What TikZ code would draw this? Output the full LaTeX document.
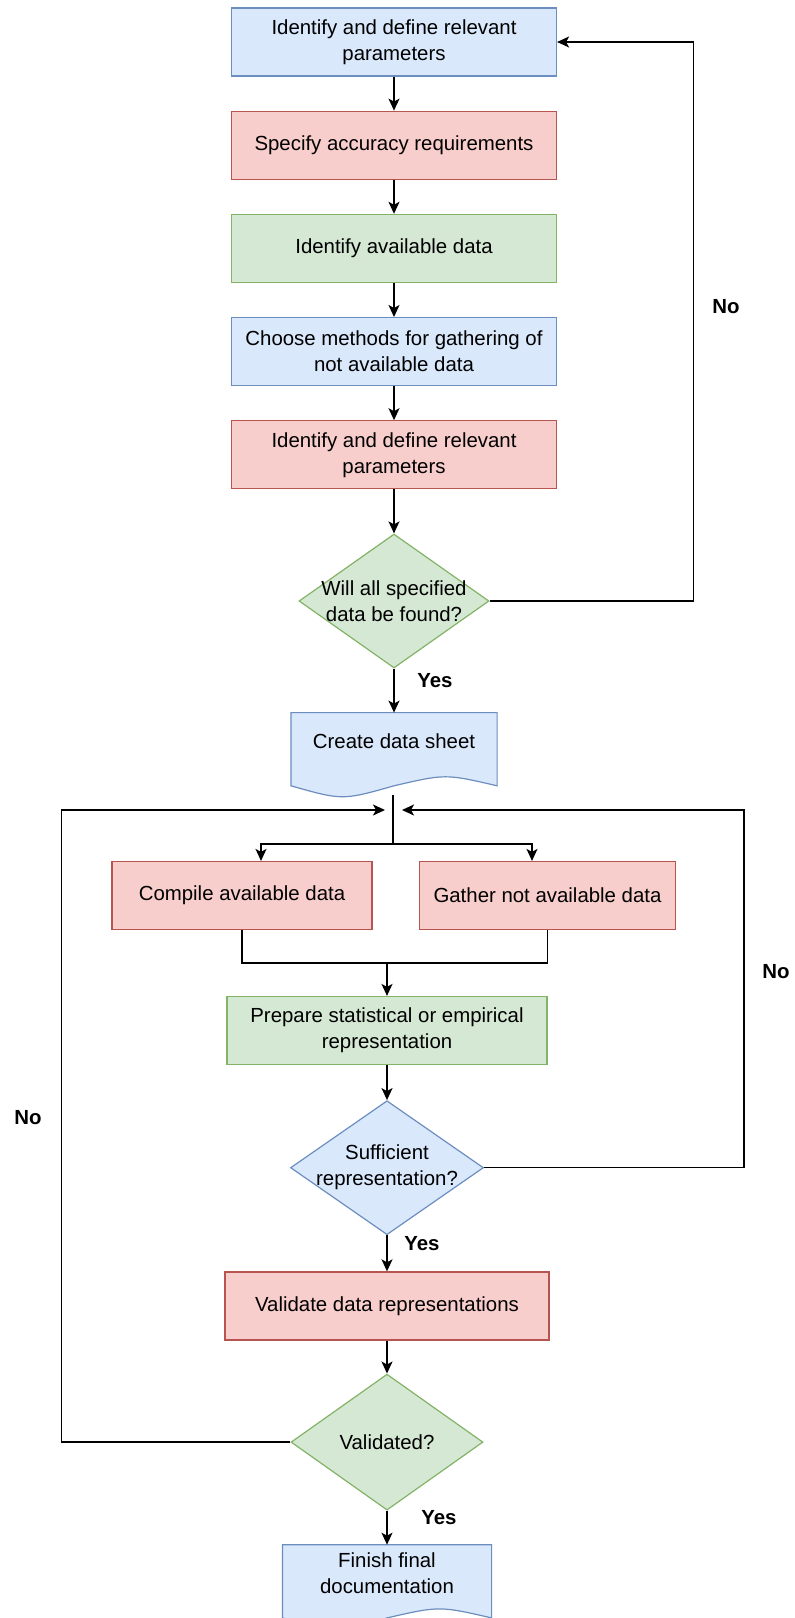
\documentclass[tikz,border=0pt]{standalone}
\usepackage{fontspec}
\setmainfont{Liberation Sans}
\usetikzlibrary{arrows.meta,positioning,calc,shapes.geometric,backgrounds}
\definecolor{bluefill}{HTML}{DAE8FC}
\definecolor{blueline}{HTML}{6C8EBF}
\definecolor{redfill}{HTML}{F8CECC}
\definecolor{redline}{HTML}{B85450}
\definecolor{greenfill}{HTML}{D5E8D4}
\definecolor{greenline}{HTML}{82B366}
\tikzset{
  base/.style={align=center,font=\fontsize{10.2}{13}\selectfont,line width=0.6pt,inner sep=2pt},
  taskblue/.style={base,draw=blueline,fill=bluefill,minimum width=162.5pt,minimum height=34pt},
  taskred/.style={base,draw=redline,fill=redfill,minimum width=162.5pt,minimum height=34pt},
  taskgreen/.style={base,draw=greengline,fill=greenfill,minimum width=162.5pt,minimum height=34pt},
  taskgreen/.style={base,draw=greenline,fill=greenfill,minimum width=162.5pt,minimum height=34pt},
  decision/.style={diamond,line width=0.6pt,inner sep=0pt,minimum width=95pt,minimum height=67pt},
  docnode/.style={base,minimum width=102.5pt,minimum height=28pt},
  docback/.style={draw=blueline,fill=bluefill,line width=0.6pt},
  arrow/.style={-{Stealth[length=6pt,width=5.5pt,inset=1.5pt]},draw=black,line width=0.75pt},
  line/.style={draw=black,line width=0.75pt},
  answer/.style={font=\fontsize{10.2}{13}\selectfont\bfseries,inner sep=1pt}
}
% wavy lower edge of a document node
\newcommand{\docwave}[1]{%
  \path[docback] let \p1=(#1.south west), \p2=(#1.south east), \n1={\x2-\x1} in
    (#1.north west) -- (#1.north east) -- (\x2,\y2-8pt)
    .. controls ({\x1+0.75*\n1},\y1-2pt) .. ({\x1+0.5*\n1},\y1-8pt)
    .. controls ({\x1+0.25*\n1},\y1-15.3pt) .. (\x1,\y1-8pt) -- cycle;}

\begin{document}
\begin{tikzpicture}[x=1pt,y=1pt]
  \useasboundingbox (0,0) rectangle (397.5,-809);
  % upper column
  \node[taskblue] (b1) at (197,-21) {Identify and define relevant\\parameters};
  \node[taskred,below=17pt of b1] (b2) {Specify accuracy requirements};
  \node[taskgreen,below=17pt of b2] (b3) {Identify available data};
  \node[taskblue,below=17pt of b3] (b4) {Choose methods for gathering of\\not available data};
  \node[taskred,below=17pt of b4] (b5) {Identify and define relevant\\parameters};
  \node[decision,draw=greenline,fill=greenfill,below=22pt of b5,
    label={[base]center:Will all specified\\data be found?}] (d1) {};
  \node[docnode,below=22pt of d1] (ds) {Create data sheet};
  \draw[arrow] (b1) -- (b2);
  \draw[arrow] (b2) -- (b3);
  \draw[arrow] (b3) -- (b4);
  \draw[arrow] (b4) -- (b5);
  \draw[arrow] (b5) -- (d1);
  \draw[arrow] (d1) -- (ds);
  \draw[arrow] (d1.east) -- ++(102,0) |- (b1.east);
  \node[answer] (no1) at (363,-153.5) {No};
  \node[answer] (yes1) at (217.5,-340.5) {Yes};

  % split into two branches
  \coordinate (jtop) at (196.5,-397.5);
  \coordinate (jbot) at (196.5,-422);
  \coordinate (jl) at (192.5,-405);
  \coordinate (jr) at (201,-405);
  \node[taskred,minimum width=130pt] (cad) at (121,-447.75) {Compile available data};
  \node[taskred,minimum width=128pt] (gnd) at (273.75,-447.75) {Gather not available data};
  \draw[line] (jtop) -- (jbot);
  \draw[arrow] (jbot) -| ([xshift=9.5pt]cad.north);
  \draw[arrow] (jbot) -| ([xshift=-7.75pt]gnd.north);

  % lower column
  \node[taskgreen,minimum width=160pt] (prep) at (193.5,-515.25) {Prepare statistical or empirical\\representation};
  \coordinate (mj) at (193.5,-481.5);
  \draw[line] (cad.south) |- (mj) -| (gnd.south);
  \draw[arrow] (mj) -- (prep);
  \node[decision,draw=blueline,fill=bluefill,minimum width=96.5pt,below=17.5pt of prep,
    label={[base]center:Sufficient\\representation?}] (d2) {};
  \node[taskred,minimum width=162pt,below=18pt of d2] (val) {Validate data representations};
  \node[decision,draw=greenline,fill=greenfill,minimum width=96pt,minimum height=68pt,below=16.5pt of val,
    label={[base]center:Validated?}] (d3) {};
  \node[docnode,minimum width=104pt,below=17pt of d3] (fin) {Finish final\\documentation};
  \draw[arrow] (prep) -- (d2);
  \draw[arrow] (d2) -- (val);
  \draw[arrow] (val) -- (d3);
  \draw[arrow] (d3) -- (fin);
  \draw[arrow] (d2.east) -- ++(130,0) |- (jr);
  \draw[arrow] (d3.west) -- ++(-114.5,0) |- (jl);
  \node[answer] (no2) at (388,-486) {No};
  \node[answer] (yes2) at (211,-622) {Yes};
  \node[answer] (no3) at (14,-559) {No};
  \node[answer] (yes3) at (219.5,-759) {Yes};

  \begin{scope}[on background layer]
    \docwave{ds}
    \docwave{fin}
  \end{scope}
\end{tikzpicture}
\end{document}
